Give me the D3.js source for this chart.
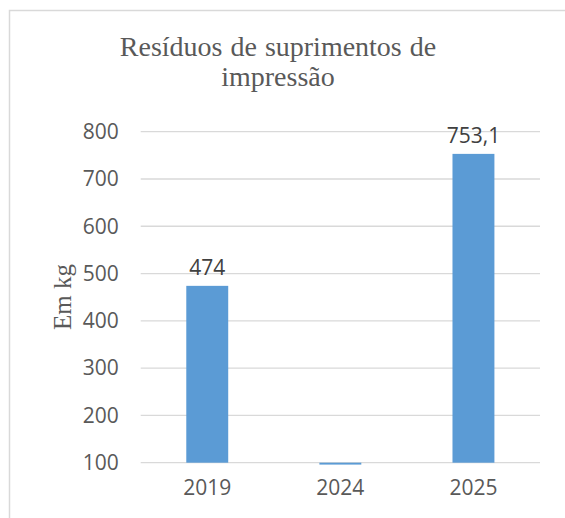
<!DOCTYPE html>
<html>
<head>
<meta charset="utf-8">
<script src="https://cdn.jsdelivr.net/npm/d3@7"></script>
<style>
body{margin:0;background:#fff;}
svg{display:block;}
</style>
</head>
<body>
<div id="chart"></div>
<script>
var categories = ["2019", "2024", "2025"];
var values = [474, 96, 753.1];
var labels = ["474", "", "753,1"];
var yTicks = [100, 200, 300, 400, 500, 600, 700, 800];
var titleLines = ["Resíduos de suprimentos de", "impressão"];
var yTitle = "Em kg";

var W = 565, H = 518;
var mg = {top: 131.7, right: 25, bottom: 55.3, left: 140.7};
var w = W - mg.left - mg.right,
	h = H - mg.top - mg.bottom;

var svg = d3.select("#chart").append("svg").attr("width", W).attr("height", H);

// frame runs off the right and bottom of the picture
svg.append("rect")
	.attr("x", 9.5).attr("y", 10.5)
	.attr("width", W + 20).attr("height", H + 20)
	.attr("fill", "none").attr("stroke", "#d9d9d9").attr("stroke-width", 1.5);

var g = svg.append("g").attr("transform", "translate(" + mg.left + "," + mg.top + ")");

var x = d3.scaleBand().domain(categories).range([0, w]).paddingInner(0.685).paddingOuter(0.3425);
var y = d3.scaleLinear().domain([100, 800]).range([h, 0]);

// gridlines
g.selectAll(".grid").data(yTicks).enter().append("line")
	.attr("x1", 0).attr("x2", w)
	.attr("y1", function(d){ return y(d); }).attr("y2", function(d){ return y(d); })
	.attr("stroke", "#d9d9d9").attr("stroke-width", 1.3);

// bars (values below the axis minimum hang below the baseline)
g.selectAll(".bar").data(values).enter().append("rect")
	.attr("x", function(d, i){ return x(categories[i]); })
	.attr("width", x.bandwidth())
	.attr("y", function(d){ return Math.min(y(d), y(100)); })
	.attr("height", function(d){ return Math.abs(y(100) - y(d)); })
	.attr("fill", "#5b9bd5");

// data labels
g.selectAll(".lbl").data(values).enter().append("text")
	.attr("x", function(d, i){ return x(categories[i]) + x.bandwidth() / 2; })
	.attr("y", function(d){ return y(d) - 11; })
	.attr("text-anchor", "middle")
	.style("font-family", "'Open Sans', sans-serif").style("font-size", "21px")
	.attr("fill", "#404040")
	.text(function(d, i){ return labels[i]; });

// y axis
var yAxis = g.append("g").call(d3.axisLeft(y).tickValues(yTicks).tickSize(0).tickPadding(22));
yAxis.select(".domain").remove();
yAxis.selectAll("text")
	.style("font-family", "'Open Sans', sans-serif").style("font-size", "21px")
	.attr("fill", "#595959");

// x axis
var xAxis = g.append("g").attr("transform", "translate(0," + h + ")")
	.call(d3.axisBottom(x).tickSize(0).tickPadding(17));
xAxis.select(".domain").remove();
xAxis.selectAll("text")
	.style("font-family", "'Open Sans', sans-serif").style("font-size", "21px")
	.attr("fill", "#595959");

// title
svg.append("g").selectAll("text").data(titleLines).enter().append("text")
	.attr("x", 278).attr("y", function(d, i){ return 56 + i * 30; })
	.attr("text-anchor", "middle")
	.style("font-family", "'Liberation Serif', 'Times New Roman', serif").style("font-size", "28px")
	.style("word-spacing", "1px")
	.attr("fill", "#595959")
	.text(function(d){ return d; });

// y axis title
svg.append("text")
	.attr("transform", "translate(71,297) rotate(-90)")
	.attr("text-anchor", "middle")
	.style("font-family", "'Liberation Serif', 'Times New Roman', serif").style("font-size", "25px")
	.attr("fill", "#595959")
	.text(yTitle);
</script>
</body>
</html>
